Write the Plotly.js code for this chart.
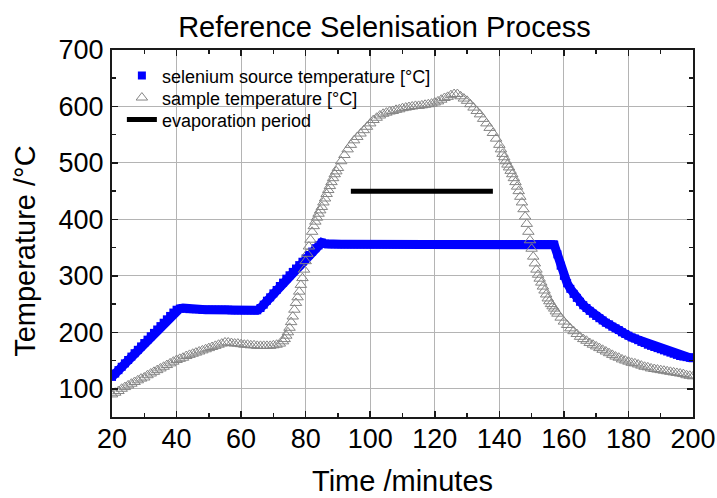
<!DOCTYPE html>
<html>
<head>
<meta charset="utf-8">
<script src="https://cdn.plot.ly/plotly-3.0.1.min.js"></script>
<style>html,body{margin:0;padding:0;background:#fff;}#chart{width:717px;height:498px;}</style>
</head>
<body>
<div id="chart"></div>
<script>
// Selenium source temperature [°C] vs time [min] (one reading per minute, 20..200)
const sourceTime = [
  20,21,22,23,24,25,26,27,28,29,
  30,31,32,33,34,35,36,37,38,39,
  40,41,42,43,44,45,46,47,48,49,
  50,51,52,53,54,55,56,57,58,59,
  60,61,62,63,64,65,66,67,68,69,
  70,71,72,73,74,75,76,77,78,79,
  80,81,82,83,84,85,86,87,88,89,
  90,91,92,93,94,95,96,97,98,99,
  100,101,102,103,104,105,106,107,108,109,
  110,111,112,113,114,115,116,117,118,119,
  120,121,122,123,124,125,126,127,128,129,
  130,131,132,133,134,135,136,137,138,139,
  140,141,142,143,144,145,146,147,148,149,
  150,151,152,153,154,155,156,157,158,159,
  160,161,162,163,164,165,166,167,168,169,
  170,171,172,173,174,175,176,177,178,179,
  180,181,182,183,184,185,186,187,188,189,
  190,191,192,193,194,195,196,197,198,199,
  200];
const sourceTemp = [
  121,127,133,139,145,151,157,163,169,175,
  181,187,193,199,205,211,217,223,229,235,
  240,242,243,242,241,241,241,241,240,240,
  240,240,240,240,240,240,240,239,239,239,
  239,239,239,239,239,239,243,249,256,262,
  269,275,282,288,295,301,307,313,319,325,
  331,337,343,349,354,359,357,356,356,356,
  356,356,356,356,356,356,356,356,356,356,
  356,356,356,356,356,356,356,356,356,356,
  356,356,356,356,356,356,356,356,356,356,
  356,356,356,356,356,356,356,356,356,356,
  356,356,356,356,356,356,356,356,356,356,
  356,356,356,356,356,356,356,356,356,356,
  356,356,356,356,356,356,356,355,338,318,
  300,287,277,268,261,254,248,243,238,233,
  229,225,221,217,214,210,207,204,200,197,
  194,191,189,186,183,181,178,176,174,172,
  170,168,166,164,162,160,158,157,156,155,
  155];

// Sample temperature [°C] vs time [min]
const sampleTime = [
  20,21,22,23,24,25,26,27,28,29,
  30,31,32,33,34,35,36,37,38,39,
  40,41,42,43,44,45,46,47,48,49,
  50,51,52,53,54,55,56,57,58,59,
  60,61,62,63,64,65,66,67,68,69,
  70,71,72,73,
  73.5,74,74.5,75,75.5,76,76.5,77,77.5,78,
  78.5,79,79.5,80,80.5,81,81.5,82,82.5,83,
  83.5,84,84.5,85,85.5,86,86.5,87,87.5,88,
  88.5,89,89.5,
  90,91,92,93,94,95,96,97,98,99,
  100,101,102,103,104,105,106,107,108,109,
  110,111,112,113,114,115,116,117,118,119,
  120,121,122,123,124,125,126,127,128,129,
  130,131,132,133,134,135,136,137,138,139,
  140,140.5,141,141.5,142,142.5,143,143.5,144,144.5,
  145,145.5,146,146.5,147,147.5,148,148.5,149,149.5,
  150,150.5,151,151.5,152,152.5,153,153.5,154,154.5,
  155,155.5,156,156.5,157,157.5,
  158,159,160,161,162,163,164,165,166,167,
  168,169,170,171,172,173,174,175,176,177,
  178,179,180,181,182,183,184,185,186,187,
  188,189,190,191,192,193,194,195,196,197,
  198,199,200];
const sampleTemp = [
  90,93,96,100,103,106,109,112,115,118,
  120,124,127,130,133,136,139,142,145,148,
  151,153,155,158,160,162,164,166,168,170,
  172,174,176,178,180,182,182,181,180,180,
  179,178,178,177,177,176,176,176,176,176,
  177,178,180,184,
  188,194,200,208,218,228,240,252,262,272,
  284,296,311,326,339,352,364,378,388,396,
  403,410,416,422,430,437,445,452,459,466,
  473,480,485,
  491,503,514,524,532,540,546,552,558,564,
  570,576,580,584,587,589,591,592,594,595,
  597,598,599,600,601,601,602,603,604,605,
  607,609,612,615,617,620,622,622,618,614,
  610,604,598,592,586,578,570,562,553,543,
  532,524,516,510,503,497,492,486,480,473,
  466,458,450,440,430,418,405,392,378,363,
  348,334,322,311,302,295,288,281,274,267,
  260,255,250,246,242,237,
  233,226,219,213,207,202,197,192,188,185,
  181,178,175,172,169,166,163,160,157,155,
  152,150,148,146,145,143,141,139,138,136,
  135,134,133,132,131,130,129,128,127,126,
  124,123,122];

// Evaporation period
const evapTime = [94, 138];
const evapTemp = [450, 450];

const xTicks = [20,40,60,80,100,120,140,160,180,200];
const yTicks = [100,200,300,400,500,600,700];

const FONT = 'Arial, "Liberation Sans", sans-serif';
const BLUE = '#0000ff';
const GREY = '#858585';

const traces = [
  { // continuous band behind the square markers
    x: sourceTime, y: sourceTemp, type: 'scatter', mode: 'lines',
    showlegend: false, hoverinfo: 'skip',
    line: {color: BLUE, width: 9}
  },
  {
    x: sourceTime, y: sourceTemp, type: 'scatter', mode: 'markers',
    name: 'selenium source temperature [°C]',
    marker: {symbol: 'square', size: 8, color: BLUE, line: {width: 0}}
  },
  {
    x: sampleTime, y: sampleTemp, type: 'scatter', mode: 'markers',
    name: 'sample temperature [°C]',
    marker: {symbol: 'triangle-up-open', size: 10, color: GREY, line: {width: 1, color: GREY}}
  },
  {
    x: evapTime, y: evapTemp, type: 'scatter', mode: 'lines',
    name: 'evaporation period',
    line: {color: '#000000', width: 5}
  }
];

const axisCommon = {
  showline: true, linecolor: '#1a1a1a', linewidth: 2,
  mirror: 'allticks', ticks: 'inside', ticklen: 6, tickwidth: 1.5, tickcolor: '#1a1a1a',
  showgrid: true, gridcolor: '#b4b4b4', gridwidth: 1, zeroline: false,
  tickfont: {family: FONT, size: 27, color: '#000'}
};

const TITLE_FONT = {family: FONT, size: 29, color: '#000'};

const layout = {
  width: 717, height: 498,
  margin: {l: 112, r: 24, t: 50, b: 81},
  paper_bgcolor: '#ffffff', plot_bgcolor: '#ffffff',
  font: {family: FONT, color: '#000'},
  title: {text: 'Reference Selenisation Process', font: TITLE_FONT,
          xref: 'paper', x: 0.469, xanchor: 'center', yref: 'container', y: 0.946, yanchor: 'middle'},
  xaxis: Object.assign({}, axisCommon, {
    range: [20, 200], tickvals: xTicks, ticktext: xTicks.map(String),
    minor: {dtick: 10, ticklen: 4, tickcolor: '#1a1a1a', ticks: 'inside', showgrid: false},
    ticklabelstandoff: -3
  }),
  yaxis: Object.assign({}, axisCommon, {
    range: [50, 700], tickvals: yTicks, ticktext: yTicks.map(String),
    minor: {dtick: 50, ticklen: 4, tickcolor: '#1a1a1a', ticks: 'inside', showgrid: false},
    ticklabelstandoff: 1
  }),
  annotations: [
    {
      text: 'Temperature /°C', textangle: -90, showarrow: false,
      xref: 'paper', x: 0, xanchor: 'center', xshift: -87,
      yref: 'paper', y: 0.45, yanchor: 'middle',
      font: TITLE_FONT
    },
    {
      text: 'Time /minutes', showarrow: false,
      xref: 'paper', x: 0.5, xanchor: 'center',
      yref: 'paper', y: 0, yanchor: 'top', yshift: -46,
      font: TITLE_FONT
    }
  ],
  showlegend: true,
  legend: {x: 0.017, y: 0.98, xanchor: 'left', yanchor: 'top', bgcolor: 'rgba(0,0,0,0)',
           font: {family: FONT, size: 18, color: '#000'}, tracegroupgap: 0, itemwidth: 30}
};

Plotly.newPlot('chart', traces, layout, {displayModeBar: false, staticPlot: true}).then(function (gd) {
  // tighten legend row spacing to match the reference
  const items = gd.querySelectorAll('.legend .traces');
  let y0 = null;
  items.forEach(function (g, i) {
    const t = g.getAttribute('transform') || '';
    const m = /translate\(\s*([-\d.]+)[ ,]+([-\d.]+)\s*\)/.exec(t);
    if (!m) return;
    const x = parseFloat(m[1]);
    const y = parseFloat(m[2]);
    if (y0 === null) y0 = y;
    g.setAttribute('transform', 'translate(' + x + ',' + (y0 + i * 22) + ')');
  });
});
</script>
</body>
</html>
